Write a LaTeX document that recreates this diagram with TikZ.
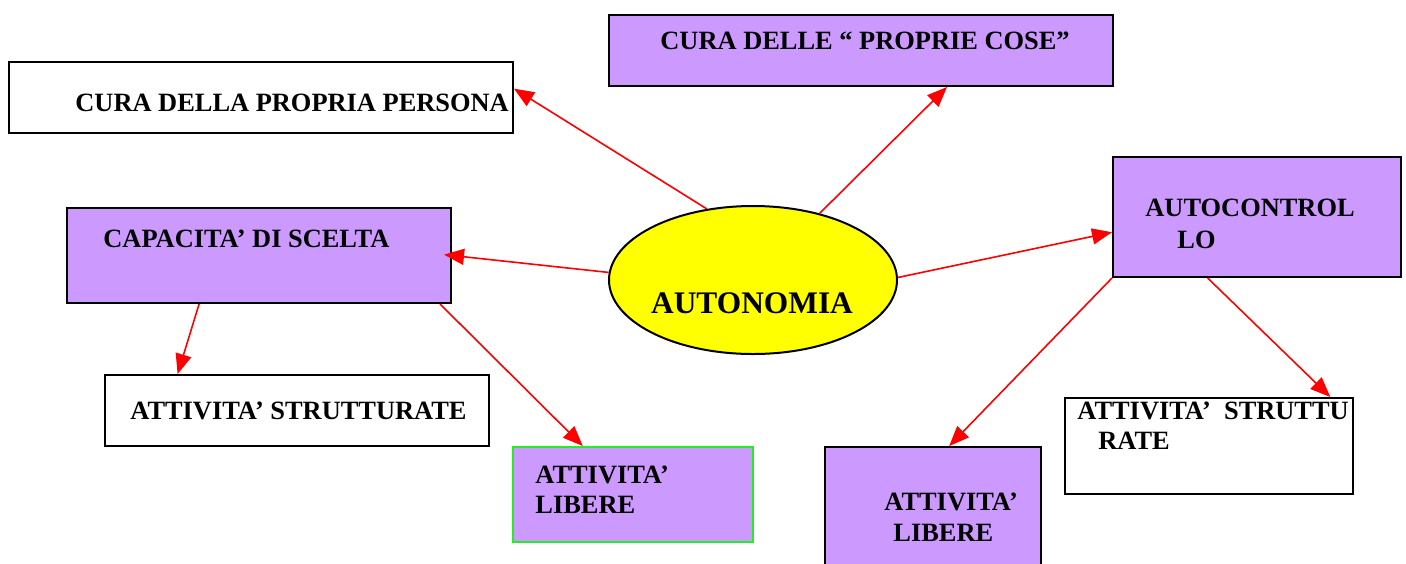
\documentclass[tikz,border=0pt]{standalone}
\usepackage{fontspec}
\setmainfont{Liberation Serif}
\usepackage{xcolor}
\usetikzlibrary{shapes.geometric, arrows.meta, calc}
\definecolor{lilac}{HTML}{CC99FF}
\definecolor{lime}{HTML}{22EE22}
\definecolor{sun}{HTML}{FFFF00}
\tikzset{
    plainbox/.style={
        rectangle,
        draw=black,
        line width=1pt,
        inner sep=0pt,
        fill=white
    },
    lilacbox/.style={
        plainbox,
        fill=lilac
    },
    boxtext/.style={
        anchor=base west,
        inner sep=0pt,
        align=left,
        font=\fontsize{13.2}{14.6}\selectfont\bfseries
    },
    link/.style={
        draw=red,
        line width=0.8pt,
        -{Triangle[length=10pt,width=8pt]}
    }
}
\begin{document}
\begin{tikzpicture}[x=0.5pt, y=-0.5pt]
\useasboundingbox (0,0) rectangle (1406,563);

% centre
\node[ellipse, draw=black, line width=1pt, fill=sun, minimum width=144pt, minimum height=74pt, inner sep=0pt] (auto) at (753,280) {};
\node[anchor=base, inner sep=0pt, font=\fontsize{15.7}{18}\selectfont\bfseries] (autotxt) at (752,313) {AUTONOMIA};

% boxes
\node[plainbox, minimum width=252pt, minimum height=35.5pt] (persona) at (261,97.5) {};
\node[boxtext] (personatxt) at (75,111) {CURA DELLA PROPRIA PERSONA};

\node[lilacbox, minimum width=252pt, minimum height=35.5pt] (cose) at (861,50.5) {};
\node[boxtext] (cosetxt) at (660,49) {CURA DELLE “ PROPRIE COSE”};

\node[lilacbox, minimum width=192pt, minimum height=47.5pt] (scelta) at (259,255.5) {};
\node[boxtext] (sceltatxt) at (103,247) {CAPACITA’ DI SCELTA};

\node[lilacbox, minimum width=144pt, minimum height=60pt] (control) at (1257,217) {};
\node[boxtext] (controltxt) at (1145,248) {AUTOCONTROL\\[1.2pt]\hspace*{16pt}LO};

\node[plainbox, minimum width=192pt, minimum height=35.5pt] (strutt) at (297,410.5) {};
\node[boxtext] (strutttxt) at (130,419) {ATTIVITA’ STRUTTURATE};

\node[lilacbox, draw=lime, minimum width=120pt, minimum height=47.5pt] (libere) at (633,494.5) {};
\node[boxtext] (liberetxt) at (535,513) {ATTIVITA’\\LIBERE};

\node[lilacbox, minimum width=108pt, minimum height=64pt] (liberedx) at (933,511) {};
\node[boxtext] (liberedxtxt) at (884,541) {ATTIVITA’\\[0.5pt]\hspace*{4.5pt}LIBERE};

\node[plainbox, minimum width=144pt, minimum height=48pt] (struttdx) at (1209,446) {};
\node[boxtext] (struttdxtxt) at (1077,449) {ATTIVITA’\ \ STRUTTU\\\hspace*{10.5pt}RATE};

% arrows
\draw[link] (auto.123) -- (persona.2);
\draw[link] (auto.45) -- (cose.337);
\draw[link, shorten >=-4pt] (auto.177) -- (scelta.east);
\draw[link] (auto.1) -- (control.186);
\draw[link] (scelta.219) -- (strutt.163);
\draw[link] (scelta.345) -- (libere.136);
\draw[link] (control.south west) -- (liberedx.76);
\draw[link] (control.231) -- (struttdx.22);

\end{tikzpicture}
\end{document}
